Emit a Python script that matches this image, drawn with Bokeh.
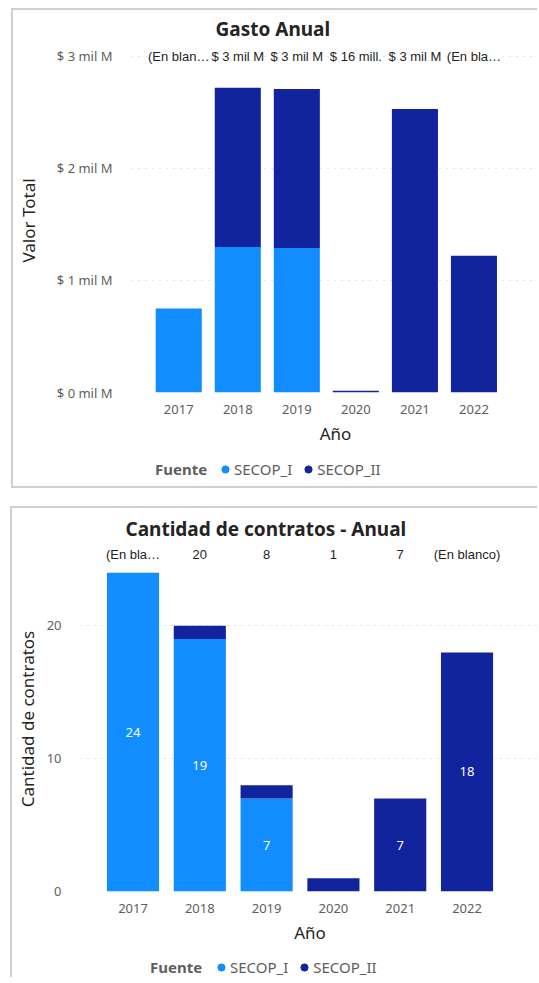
from bokeh.plotting import figure
from bokeh.models import Range1d, FixedTicker, ColumnDataSource, Legend, LegendItem, Spacer
from bokeh.layouts import column, row
from bokeh.embed import file_html
from bokeh.resources import INLINE
from bokeh.core.properties import value

# ---------------- data ----------------
years = ["2017", "2018", "2019", "2020", "2021", "2022"]
fuentes = ["SECOP_I", "SECOP_II"]
legend_title = "Fuente"

gasto_secop_i = [0.75e9, 1.30e9, 1.29e9, 0.0, 0.0, 0.0]
gasto_secop_ii = [0.0, 1.42e9, 1.42e9, 0.016e9, 2.53e9, 1.22e9]
gasto_top_labels = ["(En blan…", "$ 3 mil M", "$ 3 mil M", "$ 16 mill.", "$ 3 mil M", "(En bla…"]
gasto_ticks = [0, 1e9, 2e9, 3e9]
gasto_tick_labels = ["$ 0 mil M", "$ 1 mil M", "$ 2 mil M", "$ 3 mil M"]

contratos_secop_i = [24, 19, 7, 0, 0, 0]
contratos_secop_ii = [0, 1, 1, 1, 7, 18]
contratos_top_labels = ["(En bla…", "20", "8", "1", "7", "(En blanco)"]
contratos_ticks = [0, 10, 20]
contratos_tick_labels = ["0", "10", "20"]

# ---------------- style ----------------
C1 = "#118DFF"
C2 = "#12239E"
GREY = "#605E5C"
DARK = "#252423"
FONT = "Noto Sans"
BORDER = "2px solid #CFCFCF"


def make_chart(title, s1, s2, top_labels, ticks, tick_labels, x_start, x_end, y_end,
               label_y, ylabel, width, height, min_left, min_top, min_bottom,
               title_offset, title_valign, y_label_standoff, inside_labels, styles):
    idx = list(range(len(years)))
    src = ColumnDataSource(dict(x=idx, year=years, SECOP_I=s1, SECOP_II=s2))
    p = figure(width=width, height=height, output_backend="svg", toolbar_location=None,
               x_range=Range1d(x_start, x_end), y_range=Range1d(0, y_end),
               min_border_left=min_left, min_border_right=0,
               min_border_top=min_top, min_border_bottom=min_bottom)
    p.styles = styles
    p.outline_line_color = None
    p.vbar_stack(fuentes, x="x", width=0.78, color=[C1, C2], source=src, line_color=None)

    p.title.text = title
    p.title.align = "left"
    p.title.offset = title_offset
    p.title.vertical_align = title_valign
    p.title.text_font = FONT
    p.title.text_font_size = "19px"
    p.title.text_font_style = "bold"
    p.title.text_color = DARK

    p.xaxis.ticker = FixedTicker(ticks=idx)
    p.xaxis.major_label_overrides = {i: y for i, y in zip(idx, years)}
    p.yaxis.ticker = FixedTicker(ticks=ticks)
    p.yaxis.major_label_overrides = {t: l for t, l in zip(ticks, tick_labels)}
    for ax in (p.xaxis[0], p.yaxis[0]):
        ax.axis_line_color = None
        ax.major_tick_line_color = None
        ax.minor_tick_line_color = None
        ax.major_label_text_font = FONT
        ax.major_label_text_font_size = "13px"
        ax.major_label_text_color = GREY
        ax.axis_label_text_font = FONT
        ax.axis_label_text_font_size = "17px"
        ax.axis_label_text_font_style = "normal"
        ax.axis_label_text_color = DARK
    p.xaxis.axis_label = "Año"
    p.xaxis.major_label_standoff = 6
    p.xaxis.axis_label_standoff = 5
    p.yaxis.axis_label = ylabel
    p.yaxis.major_label_standoff = 13
    p.yaxis.axis_label_standoff = y_label_standoff

    p.xgrid.grid_line_color = None
    p.ygrid.ticker = FixedTicker(ticks=ticks)
    p.ygrid.grid_line_color = "#C8C6C4"
    p.ygrid.grid_line_dash = "1 6"
    p.ygrid.grid_line_width = 1

    # total labels row at the top of the plot area
    tsrc = ColumnDataSource(dict(x=idx, y=[label_y] * len(idx), t=top_labels))
    p.text(x="x", y="y", text="t", source=tsrc, text_align="center",
           text_baseline="middle", text_font=value("Liberation Sans"),
           text_font_size="13px", text_color=DARK, background_fill_color="white")

    # data labels inside the bars
    if inside_labels:
        lx, ly, lt = [], [], []
        for i in idx:
            if s1[i] >= 3:
                lx.append(i); ly.append(s1[i] / 2); lt.append(str(s1[i]))
            if s2[i] >= 3:
                lx.append(i); ly.append(s1[i] + s2[i] / 2); lt.append(str(s2[i]))
        isrc = ColumnDataSource(dict(x=lx, y=ly, t=lt))
        p.text(x="x", y="y", text="t", source=isrc, text_align="center",
               text_baseline="middle", text_font=value(FONT),
               text_font_size="13px", text_color="white")
    return p


def make_legend_strip(width, height, x_title, x_items, y, styles):
    f = figure(width=width, height=height, output_backend="svg", toolbar_location=None,
               x_range=Range1d(0, 1), y_range=Range1d(0, 1),
               x_axis_type=None, y_axis_type=None,
               min_border_left=0, min_border_right=0,
               min_border_top=0, min_border_bottom=0)
    f.styles = styles
    f.outline_line_color = None
    f.xgrid.visible = False
    f.ygrid.visible = False
    nan = float("nan")
    d0 = f.scatter([nan], [nan], marker="circle", size=1, alpha=0)
    d1 = f.scatter([nan], [nan], marker="circle", size=14, color=C1)
    d2 = f.scatter([nan], [nan], marker="circle", size=14, color=C2)
    lt_ = Legend(items=[LegendItem(label=legend_title, renderers=[d0])],
                 location=(x_title, y), orientation="horizontal")
    lt_.glyph_width = 0
    lt_.label_standoff = 0
    lt_.label_text_font_style = "bold"
    lg = Legend(items=[LegendItem(label=fuentes[0], renderers=[d1]),
                       LegendItem(label=fuentes[1], renderers=[d2])],
                location=(x_items, y), orientation="horizontal")
    lg.glyph_width = 18
    lg.label_standoff = 0
    lg.spacing = 7
    for L in (lt_, lg):
        L.label_text_font = FONT
        L.label_text_font_size = "15px"
        L.label_text_color = GREY
        L.glyph_height = 18
        L.label_height = 18
        L.padding = 0
        L.margin = 0
        L.border_line_color = None
        L.background_fill_alpha = 0
        f.add_layout(L)
    return f


p1 = make_chart("Gasto Anual", gasto_secop_i, gasto_secop_ii, gasto_top_labels,
                gasto_ticks, gasto_tick_labels, -0.80, 6.11, 3.071e9, 3e9, "Valor Total",
                526, 445, 112, 38, 63, 84, "top", 14, False,
                {"border-left": BORDER, "border-top": BORDER})
l1 = make_legend_strip(526, 35, 24, 85, 9,
                       {"border-left": BORDER, "border-bottom": BORDER})
p2 = make_chart("Cantidad de contratos - Anual", contratos_secop_i, contratos_secop_ii,
                contratos_top_labels, contratos_ticks, contratos_tick_labels,
                -0.786, 6.085, 25.97, 25.37, "Cantidad de contratos",
                527, 438, 68, 33, 53, 45, "bottom", 5, True,
                {"border-left": BORDER, "border-top": BORDER})
l2 = make_legend_strip(527, 33, 70, 132, 0, {"border-left": BORDER})

layout = column(Spacer(height=8),
                row(Spacer(width=11), column(p1, l1, spacing=0), spacing=0),
                Spacer(height=18),
                row(Spacer(width=10), column(p2, l2, spacing=0), spacing=0),
                spacing=0)
open("out.html", "w").write(file_html(layout, INLINE))
